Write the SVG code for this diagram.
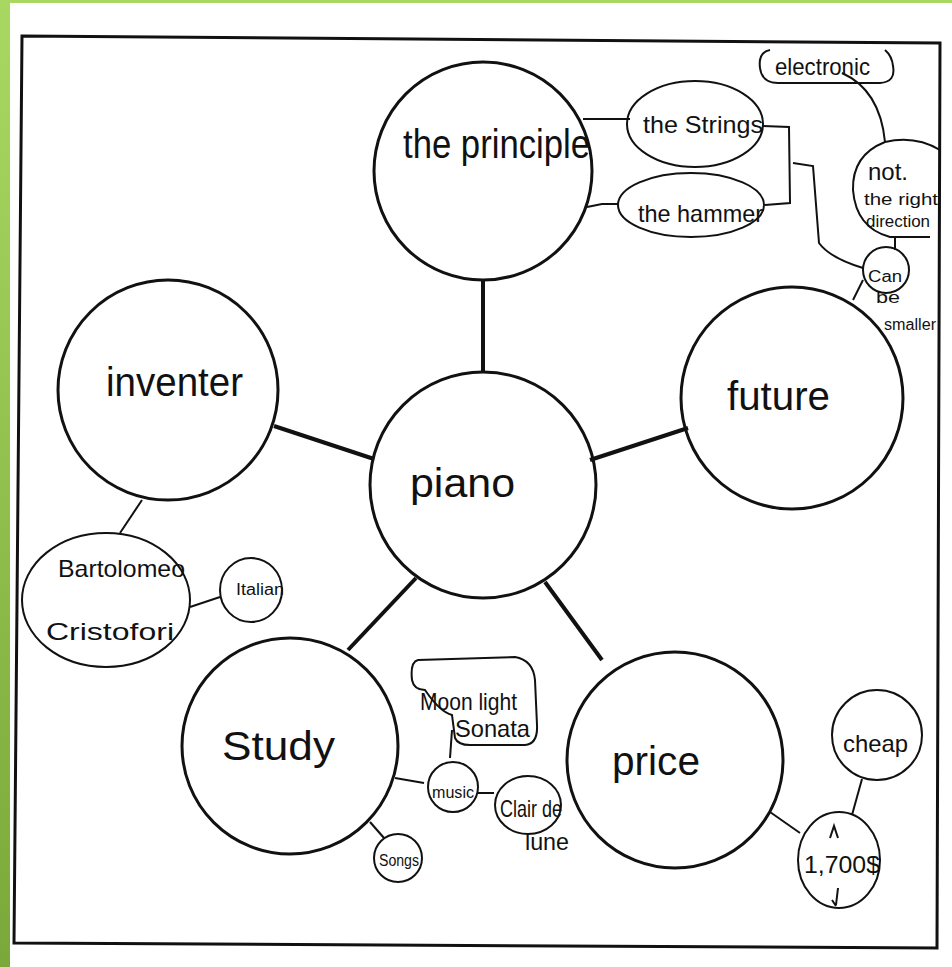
<svg xmlns="http://www.w3.org/2000/svg" width="952" height="967" viewBox="0 0 952 967">
<defs>
<linearGradient id="gl" x1="0" y1="0" x2="0" y2="1">
<stop offset="0" stop-color="#a9d862"/>
<stop offset="1" stop-color="#7aa83a"/>
</linearGradient>
<style>
.big{fill:none;stroke:#111;stroke-width:3}
.sm{fill:none;stroke:#111;stroke-width:2}
.spoke{stroke:#111;stroke-width:4;fill:none}
.ln{stroke:#111;stroke-width:2;fill:none}
text{font-family:"Liberation Sans","DejaVu Sans",sans-serif;fill:#111}
.t1{font-size:40px}
.t2{font-size:24px}
.t3{font-size:16px}
</style>
</defs>
<rect width="952" height="967" fill="#ffffff"/>
<rect x="0" y="0" width="952" height="3" fill="#a9d862"/>
<rect x="0" y="0" width="10" height="967" fill="url(#gl)"/>
<polygon points="22,36 940,43 937,948 14,943" fill="none" stroke="#111" stroke-width="3"/>

<g id="connectors">
<line class="spoke" x1="483" y1="279" x2="483" y2="372"/>
<line class="spoke" x1="274" y1="426" x2="374" y2="459"/>
<line class="spoke" x1="688" y1="428" x2="590" y2="460"/>
<line class="spoke" x1="348" y1="650" x2="416" y2="578"/>
<line class="spoke" x1="602" y1="660" x2="545" y2="582"/>
<polyline class="ln" points="583,119 630,119"/>
<polyline class="ln" points="587,207 602,204 618,204"/>
<polyline class="ln" points="763,126 789,127 790,203 765,205"/>
<path class="ln" d="M793,163 L813,166 L819,243 Q830,258 863,268"/>
<path class="ln" d="M842,73 Q880,90 885,142"/>
<line class="ln" x1="895" y1="237" x2="895" y2="250"/>
<line class="ln" x1="863" y1="280" x2="853" y2="300"/>
<line class="ln" x1="142" y1="500" x2="120" y2="533"/>
<line class="ln" x1="190" y1="607" x2="220" y2="597"/>
<line class="ln" x1="452" y1="730" x2="450" y2="758"/>
<line class="ln" x1="395" y1="778" x2="424" y2="783"/>
<line class="ln" x1="478" y1="793" x2="494" y2="793"/>
<line class="ln" x1="370" y1="822" x2="384" y2="838"/>
<line class="ln" x1="862" y1="779" x2="852" y2="815"/>
<line class="ln" x1="770" y1="812" x2="800" y2="833"/>
</g>

<g id="piano">
<circle class="big" cx="483" cy="485" r="113"/>
<text class="t1" x="410" y="497" textLength="105" lengthAdjust="spacingAndGlyphs">piano</text>
</g>
<g id="principle">
<circle class="big" cx="483" cy="171" r="109"/>
<text class="t1" x="403" y="158" textLength="187" lengthAdjust="spacingAndGlyphs">the principle</text>
</g>
<g id="inventer">
<circle class="big" cx="168" cy="390" r="110"/>
<text class="t1" x="106" y="396" textLength="137" lengthAdjust="spacingAndGlyphs">inventer</text>
</g>
<g id="future">
<circle class="big" cx="792" cy="398" r="111"/>
<text class="t1" x="727" y="410" textLength="103" lengthAdjust="spacingAndGlyphs">future</text>
</g>
<g id="study">
<circle class="big" cx="290" cy="746" r="108"/>
<text class="t1" x="222" y="760" textLength="113" lengthAdjust="spacingAndGlyphs">Study</text>
</g>
<g id="price">
<circle class="big" cx="675" cy="760" r="108"/>
<text class="t1" x="612" y="775" textLength="88" lengthAdjust="spacingAndGlyphs">price</text>
</g>

<g id="strings">
<ellipse class="sm" cx="695" cy="124" rx="68" ry="43"/>
<text class="t2" x="643" y="133" textLength="120" lengthAdjust="spacingAndGlyphs">the Strings</text>
</g>
<g id="hammer">
<ellipse class="sm" cx="691" cy="205" rx="73" ry="32"/>
<text class="t2" x="638" y="222" textLength="125" lengthAdjust="spacingAndGlyphs">the hammer</text>
</g>
<g id="electronic">
<path class="sm" d="M770,50 Q758,52 760,68 Q762,83 778,83 L880,83 Q896,82 893,66 Q892,56 885,50"/>
<text class="t2" x="775" y="75" textLength="95" lengthAdjust="spacingAndGlyphs">electronic</text>
</g>
<g id="notright">
<path class="sm" d="M940,150 Q915,135 885,142 Q852,155 853,190 Q856,228 890,237 L930,237"/>
<text class="t2" x="868" y="180" textLength="40" lengthAdjust="spacingAndGlyphs">not.</text>
<text class="t3" x="864" y="205" textLength="74" lengthAdjust="spacingAndGlyphs">the right</text>
<text class="t3" x="866" y="227" textLength="64" lengthAdjust="spacingAndGlyphs">direction</text>
</g>
<g id="smaller">
<circle class="sm" cx="886" cy="270" r="23"/>
<text class="t3" x="868" y="282" textLength="34" lengthAdjust="spacingAndGlyphs">Can</text>
<text class="t3" x="876" y="303" textLength="24" lengthAdjust="spacingAndGlyphs">be</text>
<text class="t3" x="884" y="330" textLength="52" lengthAdjust="spacingAndGlyphs">smaller</text>
</g>
<g id="bartolomeo">
<ellipse class="sm" cx="106" cy="600" rx="84" ry="67"/>
<text class="t2" x="58" y="577" textLength="127" lengthAdjust="spacingAndGlyphs">Bartolomeo</text>
<text class="t2" x="46" y="640" textLength="128" lengthAdjust="spacingAndGlyphs">Cristofori</text>
</g>
<g id="italian">
<ellipse class="sm" cx="251" cy="590" rx="31" ry="32"/>
<text class="t3" x="236" y="595" textLength="48" lengthAdjust="spacingAndGlyphs">Italian</text>
</g>
<g id="moonlight">
<path class="sm" d="M418,660 Q410,662 412,680 Q414,690 425,690 Q440,712 452,715 L455,738 Q458,745 470,745 L525,745 Q538,744 537,725 L535,680 Q533,660 515,657 Z"/>
<text class="t2" x="420" y="710" textLength="97" lengthAdjust="spacingAndGlyphs">Moon light</text>
<text class="t2" x="455" y="737" textLength="75" lengthAdjust="spacingAndGlyphs">Sonata</text>
</g>
<g id="music">
<circle class="sm" cx="453" cy="787" r="25"/>
<text class="t3" x="432" y="798" textLength="42" lengthAdjust="spacingAndGlyphs">music</text>
</g>
<g id="clair">
<ellipse class="sm" cx="528" cy="805" rx="33" ry="29"/>
<text class="t2" x="500" y="817" textLength="62" lengthAdjust="spacingAndGlyphs">Clair de</text>
<text class="t2" x="525" y="850" textLength="44" lengthAdjust="spacingAndGlyphs">lune</text>
</g>
<g id="songs">
<circle class="sm" cx="398" cy="858" r="24"/>
<text class="t3" x="379" y="866" textLength="40" lengthAdjust="spacingAndGlyphs">Songs</text>
</g>
<g id="cheap">
<circle class="sm" cx="877" cy="735" r="45"/>
<text class="t2" x="843" y="752" textLength="65" lengthAdjust="spacingAndGlyphs">cheap</text>
</g>
<g id="cost">
<ellipse class="sm" cx="839" cy="860" rx="41" ry="48"/>
<text class="t2" x="804" y="873" textLength="76" lengthAdjust="spacingAndGlyphs">1,700$</text>
<path class="ln" d="M830,838 L834,826 L838,838 M838,888 L836,905 M832,900 L836,906"/>
</g>
</svg>
